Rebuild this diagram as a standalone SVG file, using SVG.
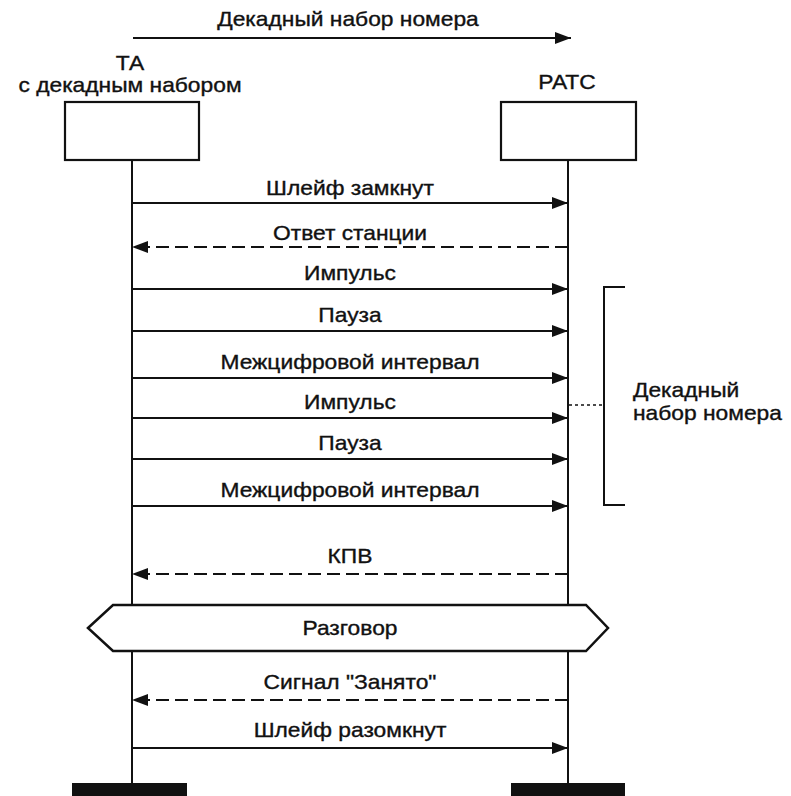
<svg xmlns="http://www.w3.org/2000/svg" width="791" height="796" viewBox="0 0 791 796">
<style>
  text { font-family: "Liberation Sans", Arial, sans-serif; font-size: 20px; fill: #111; stroke: #111; stroke-width: 0.35; }
  .c { text-anchor: middle; }
  .s { text-anchor: start; }
  .box { fill: #fff; stroke: #111; stroke-width: 2.2; }
  .life { stroke: #111; stroke-width: 2; fill: none; }
  .msg { stroke: #111; stroke-width: 2; fill: none; }
  .dash { stroke-dasharray: 13 6; }
  .bar { fill: #111; }
</style>
<defs>
  <marker id="ah" markerUnits="userSpaceOnUse" markerWidth="18" markerHeight="14" refX="16" refY="6" orient="auto">
    <path d="M0,0 L16,6 L0,12 Z" fill="#111"/>
  </marker>
</defs>
<rect width="791" height="796" fill="#fff"/>

<g id="title">
  <text class="c" transform="translate(348,26) scale(1.14,1)">Декадный набор номера</text>
  <line class="msg" x1="133" y1="38" x2="571" y2="38" marker-end="url(#ah)"/>
</g>

<g id="ta">
  <text class="c" transform="translate(130,70) scale(1.14,1)">ТА</text>
  <text class="c" transform="translate(130,92) scale(1.14,1)">с декадным набором</text>
  <rect class="box" x="65" y="102" width="134" height="58"/>
  <line class="life" x1="132" y1="160" x2="132" y2="784"/>
  <rect class="bar" x="72" y="783" width="115" height="13"/>
</g>

<g id="ratc">
  <text class="c" transform="translate(567,89) scale(1.14,1)">РАТС</text>
  <rect class="box" x="501" y="102" width="135" height="58"/>
  <line class="life" x1="568" y1="160" x2="568" y2="784"/>
  <rect class="bar" x="511" y="783" width="114" height="13"/>
</g>

<g id="connectors">
  <line class="msg" x1="132" y1="203" x2="568" y2="203" marker-end="url(#ah)"/>
  <line class="msg dash" x1="568" y1="247" x2="132" y2="247" marker-end="url(#ah)"/>
  <line class="msg" x1="132" y1="289" x2="568" y2="289" marker-end="url(#ah)"/>
  <line class="msg" x1="132" y1="331" x2="568" y2="331" marker-end="url(#ah)"/>
  <line class="msg" x1="132" y1="378" x2="568" y2="378" marker-end="url(#ah)"/>
  <line class="msg" x1="132" y1="418" x2="568" y2="418" marker-end="url(#ah)"/>
  <line class="msg" x1="132" y1="459" x2="568" y2="459" marker-end="url(#ah)"/>
  <line class="msg" x1="132" y1="506" x2="568" y2="506" marker-end="url(#ah)"/>
  <line class="msg dash" x1="568" y1="574" x2="132" y2="574" marker-end="url(#ah)"/>
  <line class="msg dash" x1="568" y1="700" x2="132" y2="700" marker-end="url(#ah)"/>
  <line class="msg" x1="132" y1="748" x2="568" y2="748" marker-end="url(#ah)"/>
</g>

<g id="labels">
  <text class="c" transform="translate(350,195) scale(1.14,1)">Шлейф замкнут</text>
  <text class="c" transform="translate(350,240) scale(1.14,1)">Ответ станции</text>
  <text class="c" transform="translate(350,280) scale(1.14,1)">Импульс</text>
  <text class="c" transform="translate(350,322) scale(1.14,1)">Пауза</text>
  <text class="c" transform="translate(350,369) scale(1.14,1)">Межцифровой интервал</text>
  <text class="c" transform="translate(350,409) scale(1.14,1)">Импульс</text>
  <text class="c" transform="translate(350,450) scale(1.14,1)">Пауза</text>
  <text class="c" transform="translate(350,497) scale(1.14,1)">Межцифровой интервал</text>
  <text class="c" transform="translate(350,563) scale(1.14,1)">КПВ</text>
  <text class="c" transform="translate(350,689) scale(1.14,1)">Сигнал "Занято"</text>
  <text class="c" transform="translate(350,737) scale(1.14,1)">Шлейф разомкнут</text>
</g>

<g id="razgovor">
  <polygon points="88,628 113,605 586,605 608,628 586,651 113,651" fill="#fff" stroke="#111" stroke-width="2.5" stroke-linejoin="miter"/>
  <text class="c" transform="translate(350,635) scale(1.14,1)">Разговор</text>
</g>

<g id="bracket">
  <path d="M625,287 H604 V505 H625" fill="none" stroke="#111" stroke-width="2"/>
  <line x1="569" y1="405" x2="604" y2="405" stroke="#111" stroke-width="1.5" stroke-dasharray="3 3"/>
  <text class="s" transform="translate(633,397) scale(1.14,1)">Декадный</text>
  <text class="s" transform="translate(633,420) scale(1.14,1)">набор номера</text>
</g>
</svg>
